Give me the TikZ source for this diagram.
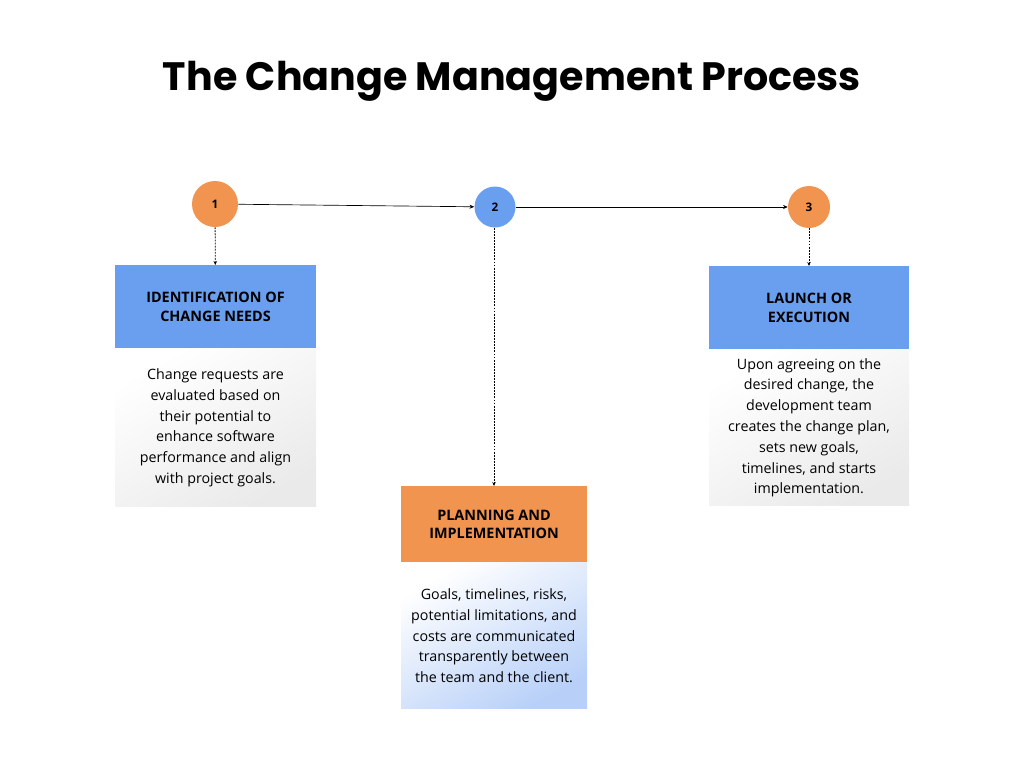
\documentclass[tikz,border=0pt]{standalone}
\usepackage{fontspec}
\setmainfont{Open Sans}
\newfontfamily\titlefont{Poppins}
\usetikzlibrary{positioning,arrows.meta}

\definecolor{stepOrange}{RGB}{240,148,80}
\definecolor{stepBlue}{RGB}{106,159,240}
\definecolor{bodyGrey}{RGB}{234,234,234}
\definecolor{bodyBlue}{RGB}{184,208,248}

\tikzset{
  stepdot/.style={circle, inner sep=0pt, font=\bfseries\fontsize{8.8}{10}\selectfont},
  headbox/.style={inner sep=0pt, align=center, font=\bfseries\fontsize{10.8}{14}\selectfont},
  bodybox/.style={inner sep=0pt, align=center, font=\fontsize{10.7}{15.6}\selectfont},
  flow/.style={-{Stealth[length=3.5pt,width=3pt]}, line width=0.5pt},
  drop/.style={-{Stealth[length=3pt,width=2.6pt]}, line width=0.6pt, dash pattern={on 1.4pt off 0.9pt}},
}

\begin{document}
\begin{tikzpicture}[x=0.75pt,y=0.75pt,yscale=-1,xscale=1]
    \useasboundingbox (0,0) rectangle (1024,768);

    % Title
    \node (title) at (512,81) [font=\titlefont\bfseries\fontsize{29.7}{34}\selectfont] {The Change Management Process};

    % Step circles
    \node (c1) at (215,204) [stepdot, fill=stepOrange, minimum size=34.5pt] {1};
    \node (c2) at (495,207) [stepdot, fill=stepBlue, minimum size=30.75pt] {2};
    \node (c3) at (809,207) [stepdot, fill=stepOrange, minimum size=31.5pt] {3};

    % Headers
    \node (h1) at (215.5,265) [headbox, anchor=north, fill=stepBlue, minimum width=150.75pt, minimum height=62.25pt] {IDENTIFICATION OF\\CHANGE NEEDS};
    \node (h2) at (494,486) [headbox, anchor=north, fill=stepOrange, minimum width=139.5pt, minimum height=57pt] {PLANNING AND\\IMPLEMENTATION};
    \node (h3) at (809,266) [headbox, anchor=north, fill=stepBlue, minimum width=150pt, minimum height=62.25pt] {LAUNCH OR\\EXECUTION};

    % Text boxes
    \node (b1) [bodybox, below=0pt of h1, minimum width=150.75pt, minimum height=118.5pt,
      top color=white, bottom color=bodyGrey, shading angle=30]
      {Change requests are\\evaluated based on\\their potential to\\enhance software\\performance and align\\with project goals.};
    \node (b2) [bodybox, below=0pt of h2, minimum width=139.5pt, minimum height=109.5pt,
      top color=white, bottom color=bodyBlue, shading angle=30]
      {Goals, timelines, risks,\\potential limitations, and\\costs are communicated\\transparently between\\the team and the client.};
    \node (b3) [bodybox, below=0pt of h3, minimum width=150pt, minimum height=117pt,
      top color=white, bottom color=bodyGrey, shading angle=30]
      {Upon agreeing on the\\desired change, the\\development team\\creates the change plan,\\sets new goals,\\timelines, and starts\\implementation.};

    % Connectors
    \draw [flow] (c1) -- (c2);
    \draw [flow] (c2) -- (c3);
    \draw [drop] (c1) -- (h1);
    \draw [drop] (c2.south -| h2.north) -- (h2);
    \draw [drop] (c3) -- (h3);

\end{tikzpicture}
\end{document}
